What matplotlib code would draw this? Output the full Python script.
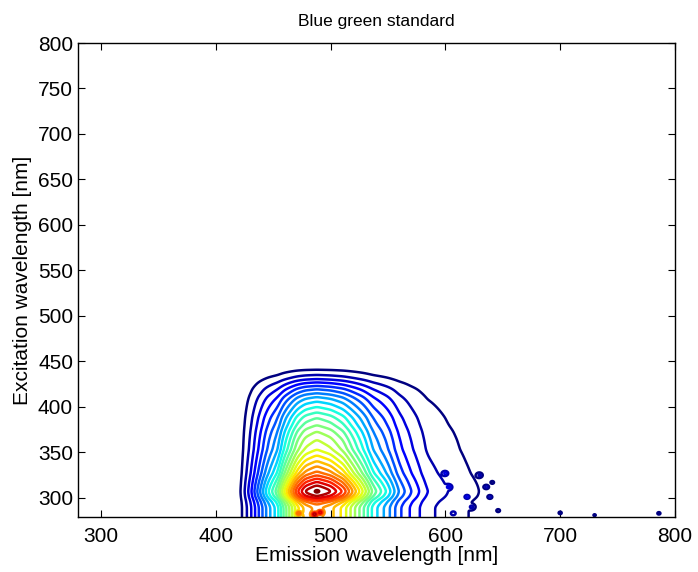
import numpy as np
import matplotlib
matplotlib.use('Agg')
import matplotlib.pyplot as plt

plt.rcParams['font.family'] = ['Liberation Sans', 'DejaVu Sans']

# emission profile along the peak row (excitation ~307 nm), normalised
em_nodes = [280, 415, 422, 430, 437, 445, 454, 459, 465, 471, 478, 488,
            500, 511, 520, 529, 537, 550, 560, 570, 584, 602, 622, 630, 642, 800]
em_level = [0, 0, 0.04, 0.14, 0.25, 0.38, 0.50, 0.62, 0.74, 0.86, 0.95, 1.0,
            0.95, 0.86, 0.74, 0.62, 0.50, 0.38, 0.27, 0.20, 0.12, 0.08, 0.05, 0.04, 0, 0]

# excitation profile along the peak column (emission ~488 nm), normalised
ex_nodes = [279, 290, 296, 302, 307, 312, 318, 327, 340, 353, 364, 373, 380, 388,
            394, 400, 406, 411, 415, 419.5, 423, 427, 430.5, 435, 441, 446, 800]
ex_level = [0.76, 0.76, 0.82, 0.95, 1.0, 0.96, 0.90, 0.80, 0.71, 0.628, 0.589, 0.55,
            0.51, 0.471, 0.432, 0.393, 0.353, 0.314, 0.275, 0.236, 0.197, 0.158,
            0.118, 0.079, 0.04, 0, 0]

# isolated noise spots (emission, excitation, height)
noise_em = [600, 603, 607, 619, 623, 630, 636, 639, 641, 646, 700, 730, 786, 472, 486, 491]
noise_ex = [327, 312, 283, 301, 290, 325, 312, 301, 317, 286, 283.5, 281, 283, 283, 282, 284]
noise_amp = [0.06, 0.07, 0.06, 0.08, 0.07, 0.06, 0.07, 0.08, 0.06, 0.07, 0.06, 0.05, 0.06,
             0.16, 0.2, 0.17]

n_levels = 25

em = np.arange(280, 800.5, 0.5)
ex = np.arange(279, 800.5, 0.5)


def smooth(y, sigma_pts):
    k = np.arange(-4 * sigma_pts, 4 * sigma_pts + 1)
    w = np.exp(-k ** 2 / (2.0 * sigma_pts ** 2))
    w /= w.sum()
    return np.convolve(np.pad(y, len(k) // 2, mode='edge'), w, mode='valid')


e_prof = smooth(np.interp(em, em_nodes, em_level), 3)
g_prof = smooth(np.interp(ex, ex_nodes, ex_level), 3)
EM, EX = np.meshgrid(em, ex)
Z = np.outer(g_prof, e_prof)
for e0, x0, a in zip(noise_em, noise_ex, noise_amp):
    Z += a * np.exp(-((EM - e0) ** 2 + (EX - x0) ** 2) / (2 * 1.5 ** 2))

levels = np.linspace(0.04, 0.98, n_levels)

fig = plt.figure(figsize=(6.98, 5.72), dpi=100)
ax = fig.add_axes([0.1117, 0.0962, 0.8553, 0.8286])
ax.contour(EM, EX, Z, levels=levels, cmap='jet', linewidths=1.8)

ax.set_xlim(280, 800)
ax.set_ylim(279, 800)
ax.set_xticks(np.arange(300, 801, 100))
ax.set_yticks(np.arange(300, 801, 50))
ax.tick_params(direction='in', top=True, right=True, length=5, labelsize=15, width=0.8)
ax.tick_params(axis='x', pad=7)
for sp in ax.spines.values():
    sp.set_linewidth(1.0)
ax.set_xlabel("Emission wavelength [nm]", fontsize=15, labelpad=0)
ax.set_ylabel("Excitation wavelength [nm]", fontsize=15, labelpad=4)
ax.set_title("Blue green standard", fontsize=12.5, pad=12)

plt.savefig("out.png", dpi=100)
